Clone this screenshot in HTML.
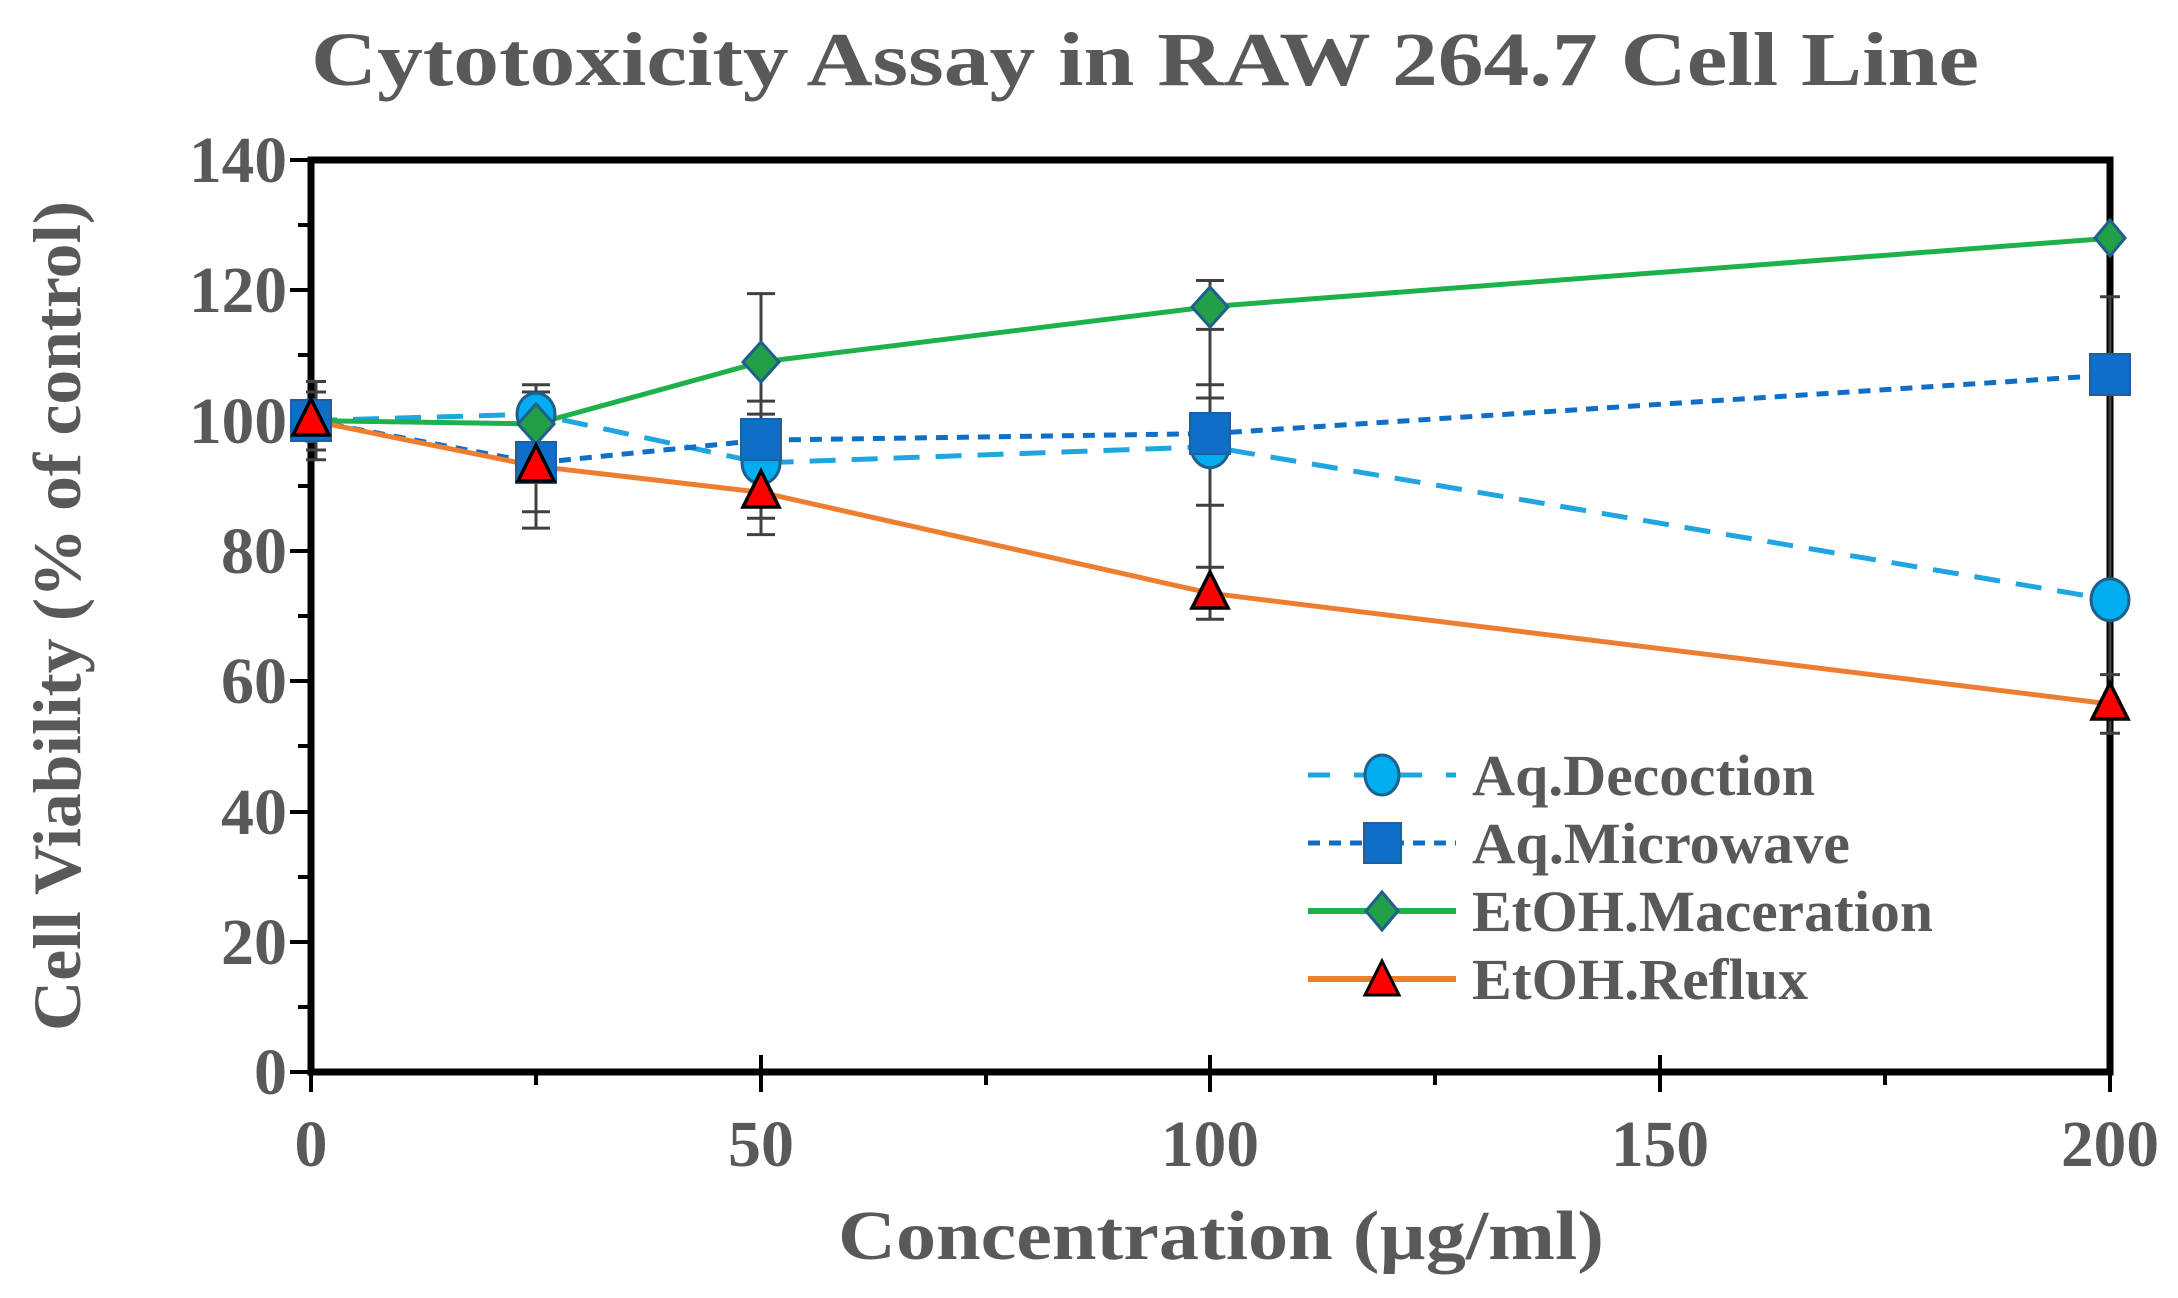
<!DOCTYPE html>
<html><head><meta charset="utf-8"><style>
html,body{margin:0;padding:0;background:#fff;}
svg{display:block;}
text{font-family:"Liberation Serif",serif;font-weight:bold;fill:#595959;}
</style></head><body>
<svg width="2178" height="1298" viewBox="0 0 2178 1298" xmlns="http://www.w3.org/2000/svg">
<text x="311" y="85" font-size="76" textLength="1668" lengthAdjust="spacingAndGlyphs">Cytotoxicity Assay in RAW 264.7 Cell Line</text>
<g font-size="66" text-anchor="end">
<text x="287" y="182" textLength="98" lengthAdjust="spacingAndGlyphs">140</text>
<text x="287" y="312" textLength="98" lengthAdjust="spacingAndGlyphs">120</text>
<text x="287" y="443" textLength="98" lengthAdjust="spacingAndGlyphs">100</text>
<text x="287" y="573" textLength="66" lengthAdjust="spacingAndGlyphs">80</text>
<text x="287" y="703" textLength="66" lengthAdjust="spacingAndGlyphs">60</text>
<text x="287" y="834" textLength="66" lengthAdjust="spacingAndGlyphs">40</text>
<text x="287" y="964" textLength="66" lengthAdjust="spacingAndGlyphs">20</text>
<text x="287" y="1094" textLength="33" lengthAdjust="spacingAndGlyphs">0</text>
</g>
<g font-size="66" text-anchor="middle">
<text x="311" y="1166" textLength="33" lengthAdjust="spacingAndGlyphs">0</text>
<text x="761" y="1166" textLength="66" lengthAdjust="spacingAndGlyphs">50</text>
<text x="1210" y="1166" textLength="98" lengthAdjust="spacingAndGlyphs">100</text>
<text x="1660" y="1166" textLength="98" lengthAdjust="spacingAndGlyphs">150</text>
<text x="2110" y="1166" textLength="98" lengthAdjust="spacingAndGlyphs">200</text>
</g>
<text x="1221" y="1259" font-size="70" text-anchor="middle" textLength="766" lengthAdjust="spacingAndGlyphs">Concentration (µg/ml)</text>
<text transform="translate(80,616) rotate(-90)" font-size="68" text-anchor="middle" textLength="830" lengthAdjust="spacingAndGlyphs">Cell Viability (% of control)</text>

<g stroke="#000" fill="none">
<rect x="311" y="160" width="1799" height="912" stroke-width="7"/>
<g stroke-width="4">
<path d="M290 160H311M290 290H311M290 421H311M290 551H311M290 681H311M290 812H311M290 942H311M290 1072H311"/>
<path d="M298 225H311M298 355H311M298 486H311M298 616H311M298 746H311M298 877H311M298 1007H311"/>
<path d="M761 1055V1092M1210 1055V1092M1660 1055V1092M2110 1072V1092M311 1072V1092"/>
<path d="M536 1072V1085M986 1072V1085M1435 1072V1085M1885 1072V1085"/>
</g>
</g>

<polyline points="311,420.6 536,414.1 761,462.9 1210,446.7 2110,599.7" fill="none" stroke="#1FA5E0" stroke-width="5" stroke-dasharray="26,16"/>
<polyline points="311,420.6 536,462.9 761,440.2 1210,433.6 2110,375" fill="none" stroke="#0F6FC6" stroke-width="5" stroke-dasharray="12,9"/>
<polyline points="311,420.6 536,423.9 761,362 1210,306.6 2110,238.2" fill="none" stroke="#1DB14B" stroke-width="5"/>
<polyline points="311,420.6 536,466.2 761,492.3 1210,593.2 2110,704" fill="none" stroke="#ED7D31" stroke-width="5"/>

<g stroke="#404040" stroke-width="3" fill="none">
<path d="M316 381.5V459.7M306 381.5H326M306 459.7H326M306 392H326M306 450H326"/>
<path d="M536 384.8V528.1M522 384.8H550M522 528.1H550M522 511.8H550M522 392H550"/>
<path d="M761 293.6V534.6M747 293.6H775M747 534.6H775M747 401.1H775M747 414.1H775M747 518.3H775"/>
<path d="M1210 280.5V619.3M1196 280.5H1224M1196 329.4H1224M1196 384.8H1224M1196 505.3H1224M1196 567.2H1224M1196 619.3H1224M1196 398H1224"/>
<path d="M2110 296.8V733.3M2100 296.8H2120M2100 674.6H2120M2100 733.3H2120"/>
</g>

<g fill="#00AEEF" stroke="#1F5F8B" stroke-width="3">
<ellipse cx="311" cy="420.6" rx="19" ry="21"/><ellipse cx="536" cy="414.1" rx="19" ry="21"/><ellipse cx="761" cy="462.9" rx="19" ry="21"/><ellipse cx="1210" cy="446.7" rx="19" ry="21"/><ellipse cx="2110" cy="599.7" rx="19" ry="21"/>
</g>
<g fill="#0F6FC6" stroke="#1F5F9B" stroke-width="2">
<rect x="291" y="400" width="40" height="41"/><rect x="516" y="442" width="40" height="41"/><rect x="741" y="419" width="40" height="41"/><rect x="1190" y="413" width="40" height="41"/><rect x="2090" y="354" width="40" height="41"/>
</g>
<g fill="#23A047" stroke="#1F5F8B" stroke-width="3">
<path d="M536 404l18 20-18 20-18-20z"/><path d="M761 342l18 20-18 20-18-20z"/><path d="M1210 287l18 20-18 20-18-20z"/><path d="M2110 220l15 18-15 18-15-18z"/>
</g>
<g fill="#FF0000" stroke="#000" stroke-width="3.5">
<path d="M311 399l18 36h-36z"/><path d="M536 445l18 36h-36z"/><path d="M761 471l18 36h-36z"/><path d="M1210 572l18 36h-36z"/><path d="M2110 683l18 36h-36z"/>
</g>

<g>
<line x1="1308" y1="775" x2="1456" y2="775" stroke="#1FA5E0" stroke-width="5" stroke-dasharray="22,24"/>
<ellipse cx="1382" cy="775" rx="17" ry="20" fill="#00AEEF" stroke="#1F5F8B" stroke-width="3"/>
<text x="1472" y="795" font-size="58" textLength="343" lengthAdjust="spacingAndGlyphs">Aq.Decoction</text>
<line x1="1308" y1="843" x2="1456" y2="843" stroke="#0F6FC6" stroke-width="5" stroke-dasharray="12,9"/>
<rect x="1364" y="823" width="37" height="40" fill="#0F6FC6" stroke="#1F5F9B" stroke-width="2"/>
<text x="1472" y="863" font-size="58" textLength="378" lengthAdjust="spacingAndGlyphs">Aq.Microwave</text>
<line x1="1308" y1="911" x2="1456" y2="911" stroke="#1DB14B" stroke-width="6"/>
<path d="M1382 892l16 19-16 19-16-19z" fill="#23A047" stroke="#1F5F8B" stroke-width="3"/>
<text x="1472" y="931" font-size="58" textLength="461" lengthAdjust="spacingAndGlyphs">EtOH.Maceration</text>
<line x1="1308" y1="979" x2="1456" y2="979" stroke="#ED7D31" stroke-width="6"/>
<path d="M1382 961l17 34h-34z" fill="#FF0000" stroke="#000" stroke-width="3"/>
<text x="1472" y="999" font-size="58" textLength="336" lengthAdjust="spacingAndGlyphs">EtOH.Reflux</text>
</g>
</svg>
</body></html>
